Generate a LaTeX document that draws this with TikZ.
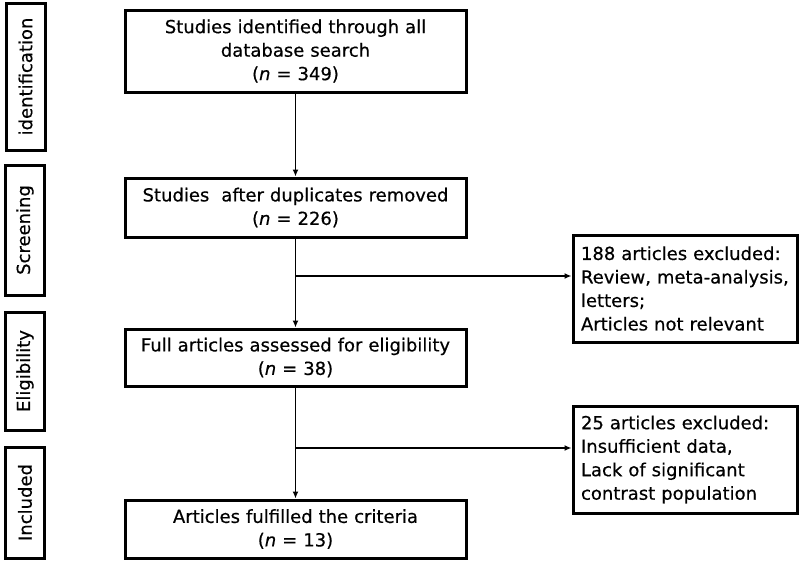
\documentclass[tikz,border=0pt]{standalone}
\usepackage{fontspec}
\setmainfont{DejaVu Sans}[FakeBold=0.5]
\usetikzlibrary{arrows.meta}
\tikzset{
  box/.style={draw=black, line width=3pt, inner ysep=0pt,
    font=\fontsize{18}{23.5}\selectfont},
  mainbox/.style={box, inner xsep=10pt, text width=321pt, minimum height=#1, align=center},
  sidebox/.style={box, inner xsep=8pt, text width=208pt, minimum height=107pt, align=left},
  stagebox/.style={draw=black, line width=3pt, inner sep=0pt,
    minimum width=#1, minimum height=39pt, rotate=90,
    font=\fontsize{18}{22}\selectfont},
  arr/.style={line width=1.8pt, -{Latex[length=7pt,width=6pt]}},
}
\begin{document}
\begin{tikzpicture}[x=1pt,y=-1pt]
\useasboundingbox (0,0) rectangle (800,563);
% stage labels
\node[stagebox=147pt] (s1) at (25.5,76.5) {identification};
\node[stagebox=130pt] (s2) at (25,230) {Screening};
\node[stagebox=118pt] (s3) at (25,371) {Eligibility};
\node[stagebox=111pt] (s4) at (25,502.5) {Included};
% main boxes
\node[mainbox=82pt] (b1) at (295.5,51) {Studies identified through all\\database search\\(\textit{n} = 349)};
\node[mainbox=59pt] (b2) at (295.5,207.5) {Studies\ \ after duplicates removed\\(\textit{n} = 226)};
\node[mainbox=57pt] (b3) at (295.5,357.5) {Full articles assessed for eligibility\\(\textit{n} = 38)};
\node[mainbox=58pt] (b4) at (295.5,529) {Articles fulfilled the criteria\\(\textit{n} = 13)};
% side boxes
\node[sidebox] (r1) at (685,288.5) {188 articles excluded:\\\mbox{Review, meta-analysis,}\\letters;\\Articles not relevant};
\node[sidebox] (r2) at (685,459.5) {25 articles excluded:\\Insufficient data,\\Lack of significant\\contrast population};
% branch points
\coordinate (c1) at (295.5,276);
\coordinate (c2) at (295.5,448);
% connectors
\draw[arr] (b1.south) -- (b2.north);
\draw[arr] (b2.south) -- (b3.north);
\draw[arr] (b3.south) -- (b4.north);
\draw[arr] (c1) -- (c1 -| r1.west);
\draw[arr] (c2) -- (c2 -| r2.west);
\end{tikzpicture}
\end{document}
